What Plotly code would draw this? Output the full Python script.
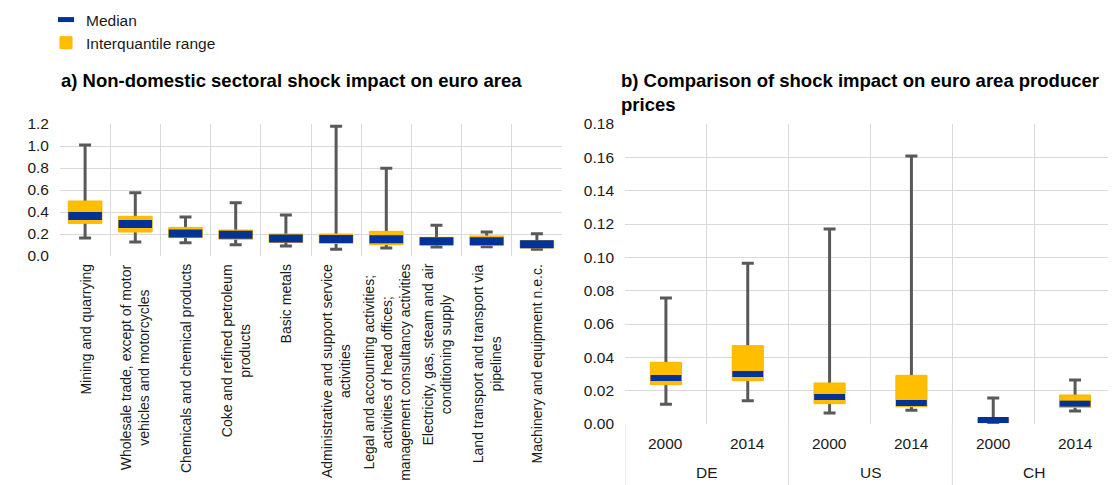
import plotly.graph_objects as go

# ---------------- data ----------------
sector_labels = [
    "Mining and quarrying",
    "Wholesale trade, except of motor<br>vehicles and motorcycles",
    "Chemicals and chemical products",
    "Coke and refined petroleum<br>products",
    "Basic metals",
    "Administrative and support service<br>activities",
    "Legal and accounting activities;<br>activities of head offices;<br>management consultancy activities",
    "Electricity, gas, steam and air<br>conditioning supply",
    "Land transport and transport via<br>pipelines",
    "Machinery and equipment n.e.c.",
]
sec_min = [0.164, 0.127, 0.121, 0.103, 0.091, 0.061, 0.073, 0.082, 0.085, 0.061]
sec_q1 = [0.297, 0.218, 0.167, 0.152, 0.124, 0.115, 0.103, 0.100, 0.097, 0.073]
sec_median = [0.364, 0.290, 0.205, 0.194, 0.160, 0.155, 0.152, 0.133, 0.133, 0.106]
sec_q3 = [0.500, 0.361, 0.260, 0.236, 0.200, 0.200, 0.224, 0.170, 0.182, 0.139]
sec_max = [1.009, 0.576, 0.355, 0.485, 0.373, 1.179, 0.797, 0.279, 0.218, 0.203]

countries = ["DE", "DE", "US", "US", "CH", "CH"]
years = ["2000", "2014", "2000", "2014", "2000", "2014"]
country_groups = ["DE", "US", "CH"]
cty_min = [0.0118, 0.0140, 0.0066, 0.0082, 0.0005, 0.0078]
cty_q1 = [0.0236, 0.0260, 0.0122, 0.0104, 0.0008, 0.0100]
cty_median = [0.0276, 0.0300, 0.0162, 0.0126, 0.0024, 0.0122]
cty_q3 = [0.0370, 0.0470, 0.0246, 0.0292, 0.0035, 0.0174]
cty_max = [0.0756, 0.0964, 0.1170, 0.1608, 0.0156, 0.0264]

title_a = "a) Non-domestic sectoral shock impact on euro area"
title_b = "b) Comparison of shock impact on euro area producer<br>prices"

# ---------------- style ----------------
FONT = "Liberation Sans, Arial, sans-serif"
YELLOW = "#FFBF00"
YELLOW_EDGE = "#FFB400"
BLUE = "#003299"
WHISKER = "#595959"
GRID = "#D9D9D9"
TXT = "#1a1a1a"

OFF = 8  # page body margin
W, H = 1116 - OFF, 485 - OFF
ML, MR, MT, MB = 60 - OFF, 0, 124 - OFF, (485 - OFF) - (424 - OFF)
PW = W - ML - MR
PH = H - MT - MB


def px_x(p):
    """reference-image pixel x -> paper x"""
    return (p - OFF - ML) / PW


def px_y(p):
    """reference-image pixel y -> paper y"""
    return (H - MB - (p - OFF)) / PH


sec_idx = list(range(len(sector_labels)))
cty_x = [countries, years]
per_group = len(years) // len(country_groups)

fig = go.Figure()

# whiskers (min-max) drawn as error bars around the median
fig.add_trace(go.Scatter(
    x=sec_idx, y=sec_median, mode="markers",
    marker=dict(size=1, color="rgba(0,0,0,0)"),
    error_y=dict(type="data", symmetric=False,
                 array=[mx - m for mx, m in zip(sec_max, sec_median)],
                 arrayminus=[m - mn for m, mn in zip(sec_median, sec_min)],
                 color=WHISKER, thickness=3, width=6),
    showlegend=False, hoverinfo="skip", xaxis="x", yaxis="y", zorder=0,
))
fig.add_trace(go.Scatter(
    x=cty_x, y=cty_median, mode="markers",
    marker=dict(size=1, color="rgba(0,0,0,0)"),
    error_y=dict(type="data", symmetric=False,
                 array=[mx - m for mx, m in zip(cty_max, cty_median)],
                 arrayminus=[m - mn for m, mn in zip(cty_median, cty_min)],
                 color=WHISKER, thickness=3, width=6),
    showlegend=False, hoverinfo="skip", xaxis="x2", yaxis="y2", zorder=0,
))

# legend entry for the median (short thick dash)
fig.add_trace(go.Scatter(
    x=[None], y=[None], mode="markers", name="Median",
    marker=dict(symbol="line-ew", size=11.5, color=BLUE,
                line=dict(color=BLUE, width=5)),
    showlegend=True, xaxis="x", yaxis="y",
))

# medians
fig.add_trace(go.Scatter(
    x=sec_idx, y=sec_median, mode="markers", name="Median",
    marker=dict(symbol="line-ew", size=24, color=BLUE,
                line=dict(color=BLUE, width=8)),
    showlegend=False, xaxis="x", yaxis="y", zorder=2,
))
fig.add_trace(go.Scatter(
    x=cty_x, y=cty_median, mode="markers", name="Median",
    marker=dict(symbol="line-ew", size=22, color=BLUE,
                line=dict(color=BLUE, width=6)),
    showlegend=False, xaxis="x2", yaxis="y2", zorder=2,
))

# interquartile boxes
fig.add_trace(go.Bar(
    x=sec_idx, y=[q3 - q1 for q1, q3 in zip(sec_q1, sec_q3)], base=sec_q1,
    width=0.67, name="Interquantile range",
    marker=dict(color=YELLOW, line=dict(color=YELLOW_EDGE, width=1)),
    showlegend=True, xaxis="x", yaxis="y", zorder=1,
))
fig.add_trace(go.Bar(
    x=cty_x, y=[q3 - q1 for q1, q3 in zip(cty_q1, cty_q3)], base=cty_q1,
    width=0.38, name="Interquantile range",
    marker=dict(color=YELLOW, line=dict(color=YELLOW_EDGE, width=1)),
    showlegend=False, xaxis="x2", yaxis="y2", zorder=1,
))

annotations = []
for i, lab in zip(sec_idx, sector_labels):
    annotations.append(dict(
        x=i, xref="x", y=px_y(262), yref="paper", text=lab,
        textangle=-90, xanchor="center", yanchor="top", align="center",
        showarrow=False, font=dict(family=FONT, size=14, color=TXT),
    ))
for i, yr in enumerate(years):
    annotations.append(dict(
        x=i, xref="x2", y=px_y(443), yref="paper", text=yr,
        xanchor="center", yanchor="middle", showarrow=False,
        font=dict(family=FONT, size=15.5, color=TXT),
    ))
for k, c in enumerate(country_groups):
    annotations.append(dict(
        x=per_group * k + (per_group - 1) / 2, xref="x2", y=px_y(472), yref="paper", text=c,
        xanchor="center", yanchor="middle", showarrow=False,
        font=dict(family=FONT, size=15.5, color=TXT),
    ))
annotations.append(dict(
    x=px_x(59), xref="paper", y=px_y(68), yref="paper", text="<b>" + title_a + "</b>",
    xanchor="left", yanchor="top", align="left", showarrow=False,
    font=dict(family=FONT, size=18.5, color="#000"),
))
annotations.append(dict(
    x=px_x(619), xref="paper", y=px_y(68), yref="paper",
    text="<b>" + title_b.replace("<br>", "</b><br><b>") + "</b>",
    xanchor="left", yanchor="top", align="left", showarrow=False,
    font=dict(family=FONT, size=18.5, color="#000"),
))

# group dividers below the right-hand axis
shapes = []
for k in range(len(country_groups) + 1):
    shapes.append(dict(
        type="line", xref="x2", yref="paper",
        x0=per_group * k - 0.5, x1=per_group * k - 0.5,
        y0=0, y1=px_y(485), line=dict(color=GRID, width=1), layer="below",
    ))

axis_font = dict(family=FONT, size=15.5, color=TXT)

fig.update_layout(
    width=W, height=H,
    margin=dict(l=ML, r=MR, t=MT, b=MB, autoexpand=False),
    paper_bgcolor="white", plot_bgcolor="white",
    barmode="overlay",
    font=dict(family=FONT, size=15.5, color=TXT),
    showlegend=True,
    legend=dict(x=px_x(46), xanchor="left", y=px_y(3), yanchor="top",
                font=dict(family=FONT, size=15.5, color=TXT),
                bgcolor="rgba(0,0,0,0)", traceorder="normal"),
    xaxis=dict(domain=[0, px_x(562)], type="category",
               range=[-0.5, len(sector_labels) - 0.5],
               tickvals=sec_idx, ticktext=[""] * len(sec_idx),
               showticklabels=False, tickson="boundaries",
               showgrid=True, gridcolor=GRID, gridwidth=1,
               showline=False, zeroline=False, ticks="", fixedrange=True),
    yaxis=dict(domain=[px_y(256), 1], range=[0, 1.2], dtick=0.2, tickformat=".1f",
               showgrid=True, gridcolor=GRID, gridwidth=1, zeroline=False,
               showline=False, ticks="", tickfont=axis_font,
               ticklabelstandoff=10, anchor="x"),
    xaxis2=dict(domain=[px_x(625), 1], type="multicategory",
                range=[-0.5, len(years) - 0.5],
                tickson="boundaries", showgrid=True, gridcolor=GRID, gridwidth=1,
                showticklabels=False, showdividers=False,
                showline=False, zeroline=False, ticks="",
                anchor="y2"),
    yaxis2=dict(domain=[0, 1], range=[0, 0.18], dtick=0.02, tickformat=".2f",
                showgrid=True, gridcolor=GRID, gridwidth=1, zeroline=False,
                showline=False, ticks="", tickfont=axis_font,
                ticklabelstandoff=10, anchor="x2"),
    annotations=annotations,
    shapes=shapes,
)

fig.write_html("out.html")
